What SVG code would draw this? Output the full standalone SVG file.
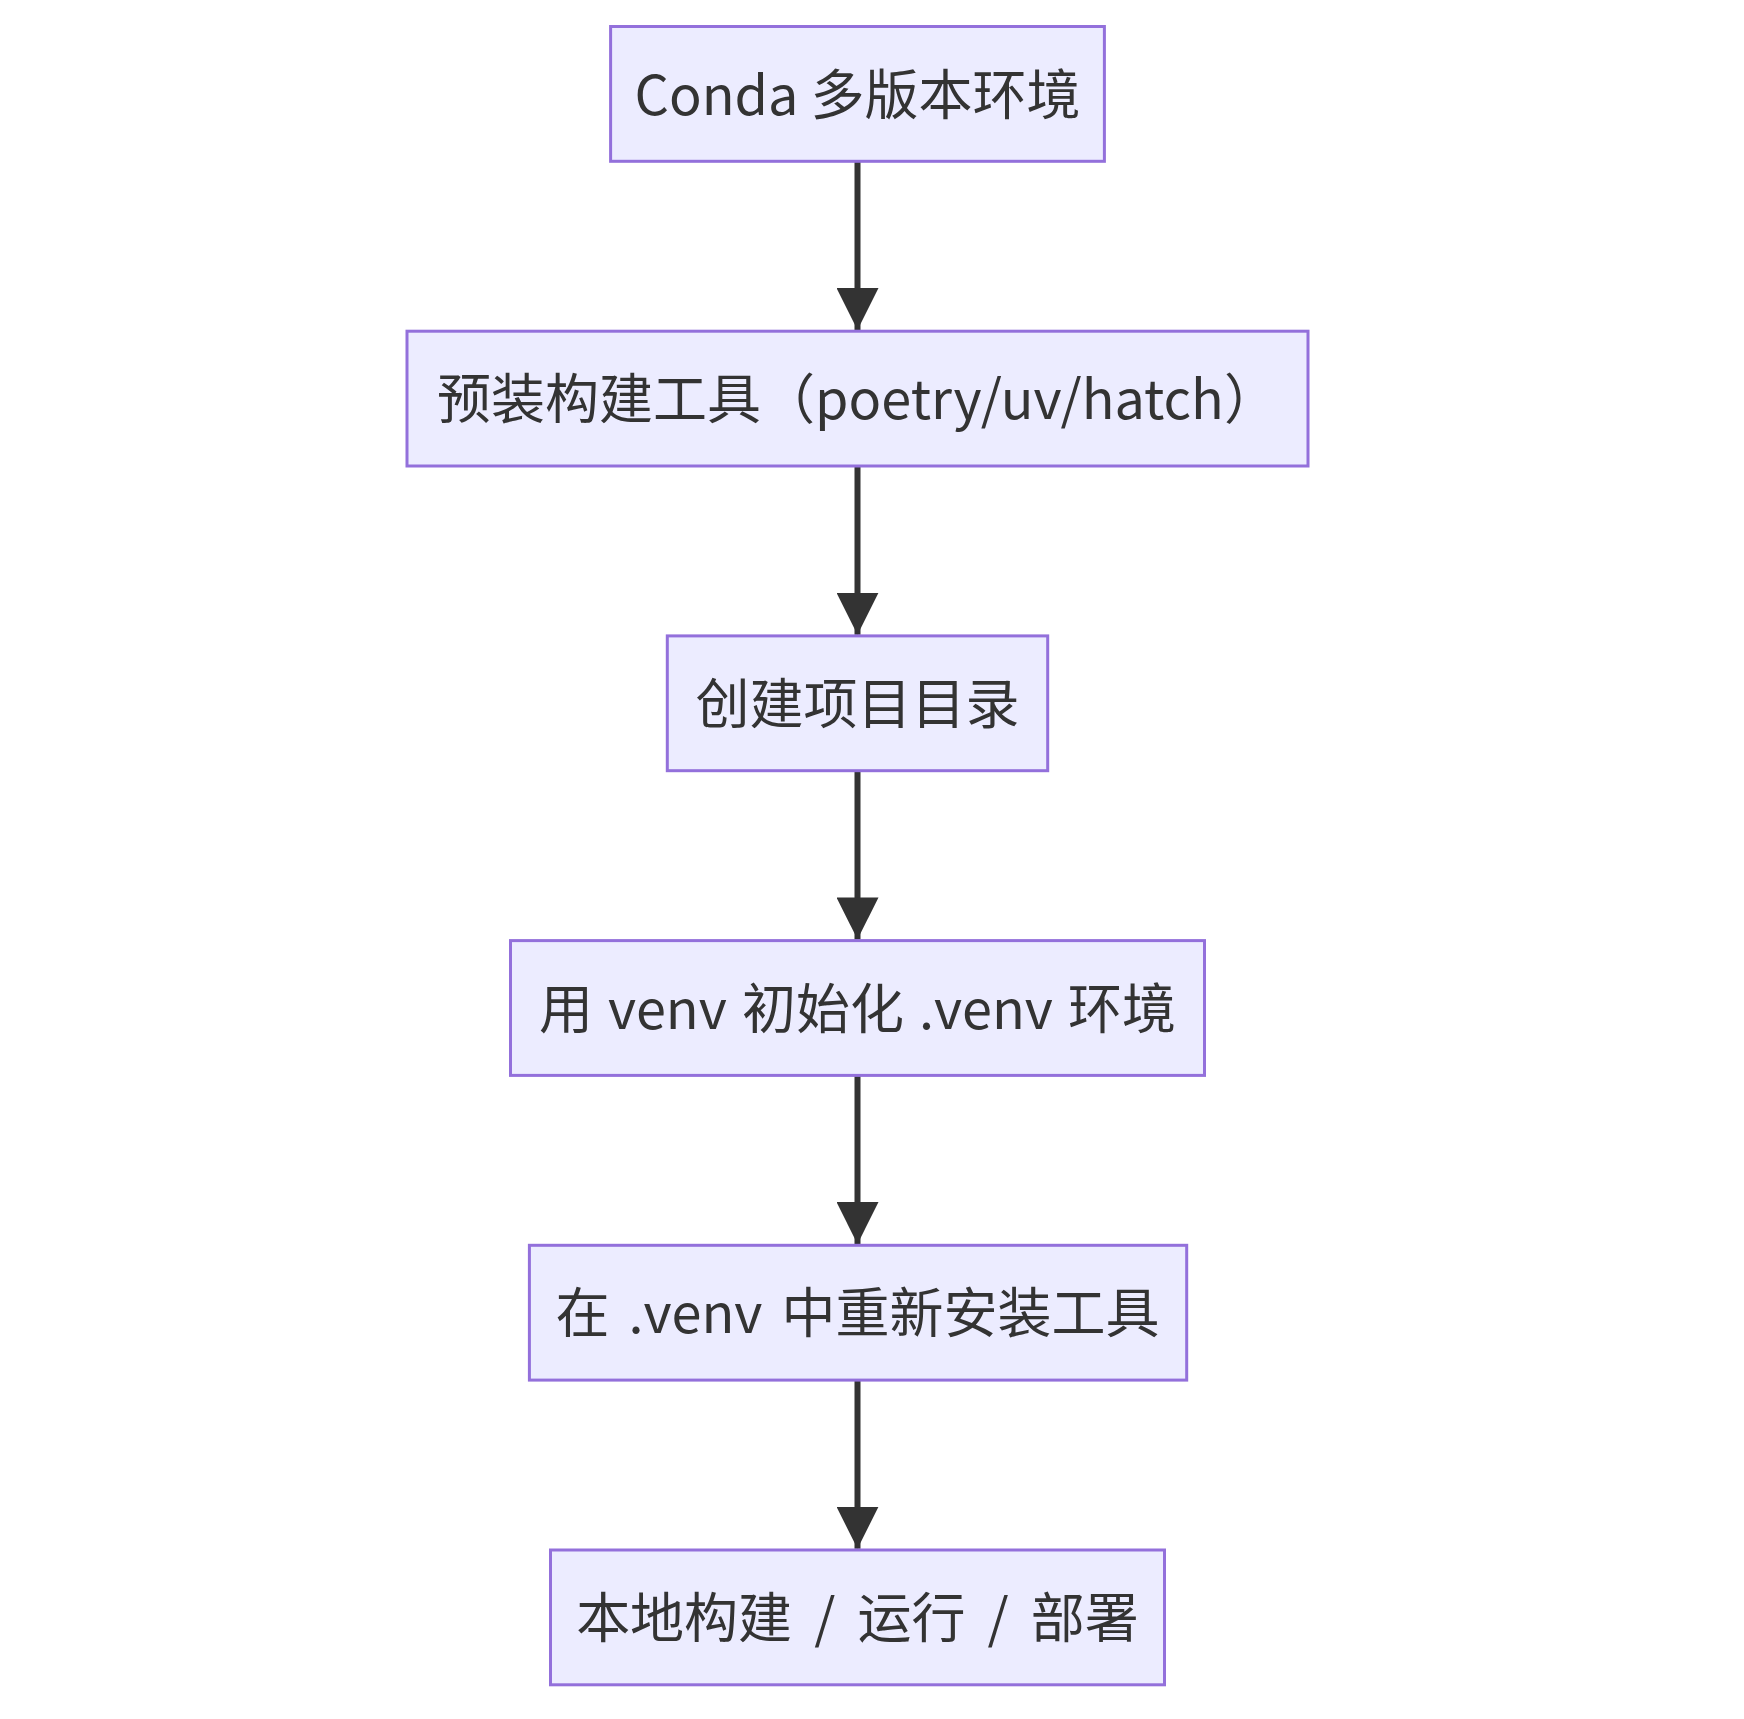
<svg xmlns="http://www.w3.org/2000/svg" width="1744" height="1719" viewBox="0 0 1744 1719">
<style>
.node rect{fill:#ECECFF;stroke:#9370DB;stroke-width:3}
.node text{fill:#333333;font-family:"Noto Sans CJK SC","Noto Sans",sans-serif;font-size:54px;text-anchor:middle;dominant-baseline:central}
.edge{stroke:#333333;stroke-width:6;fill:none}
</style>
<defs>
<marker id="arrow" viewBox="0 0 10 10" refX="10" refY="5" markerUnits="userSpaceOnUse" markerWidth="42" markerHeight="42" orient="auto">
<path d="M0,0 L10,5 L0,10 z" fill="#333333"/>
</marker>
</defs>
<rect width="1744" height="1719" fill="#ffffff"/>
<g id="connectors">
<path class="edge" d="M857.5,161.3 V330" marker-end="url(#arrow)"/>
<path class="edge" d="M857.5,466 V634.7" marker-end="url(#arrow)"/>
<path class="edge" d="M857.5,770.7 V939.4" marker-end="url(#arrow)"/>
<path class="edge" d="M857.5,1075.4 V1244.1" marker-end="url(#arrow)"/>
<path class="edge" d="M857.5,1380.1 V1548.8" marker-end="url(#arrow)"/>
</g>
<g id="n1" class="node"><rect x="610.6" y="26.5" width="493.8" height="134.8"/><text x="857.5" y="91">Conda 多版本环境</text></g>
<g id="n2" class="node"><rect x="407" y="331.2" width="901" height="134.8"/><text x="857.5" y="395.8">预装构建工具（poetry/uv/hatch）</text></g>
<g id="n3" class="node"><rect x="667.3" y="635.9" width="380.4" height="134.8"/><text x="857.5" y="700.5">创建项目目录</text></g>
<g id="n4" class="node"><rect x="510.5" y="940.6" width="694" height="134.8"/><text x="857.5" y="1005.2" word-spacing="3">用 venv 初始化 .venv 环境</text></g>
<g id="n5" class="node"><rect x="529.4" y="1245.3" width="657.3" height="134.8"/><text x="857.5" y="1309.9" word-spacing="7">在 .venv 中重新安装工具</text></g>
<g id="n6" class="node"><rect x="550.5" y="1550" width="614" height="134.8"/><text x="857.5" y="1614.6" word-spacing="10">本地构建 / 运行 / 部署</text></g>
</svg>
